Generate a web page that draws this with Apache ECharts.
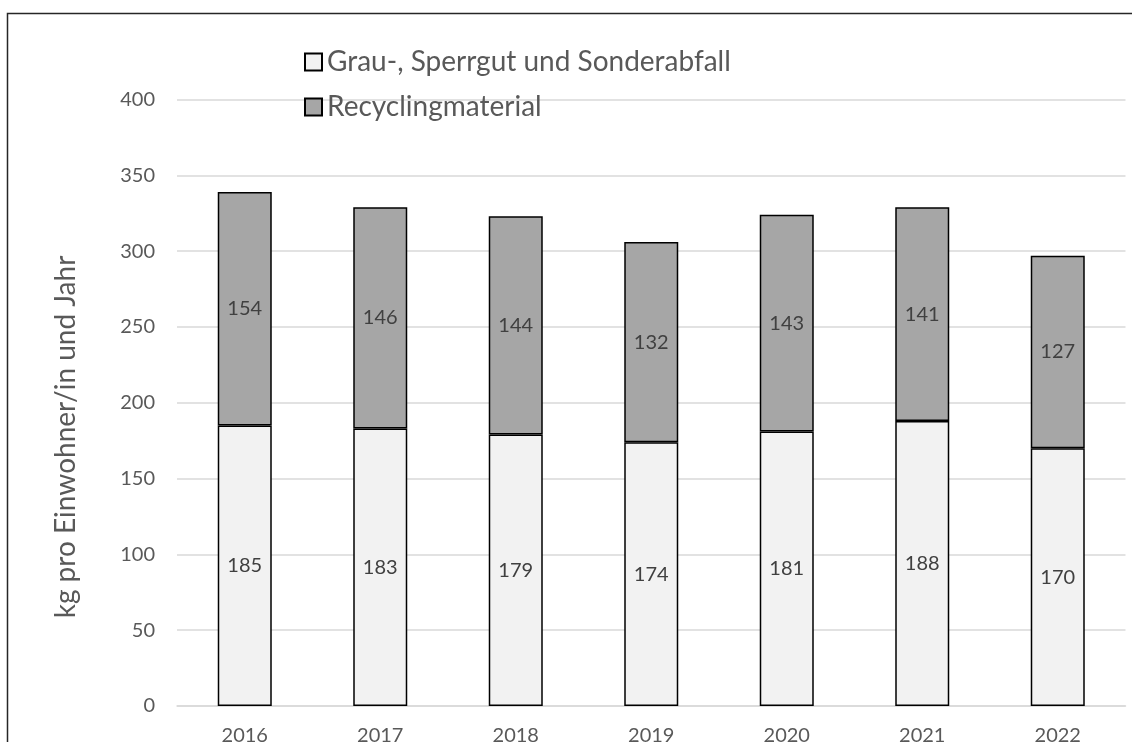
<!DOCTYPE html>
<html>
<head>
<meta charset="utf-8">
<script src="https://cdn.jsdelivr.net/npm/echarts@6/dist/echarts.min.js"></script>
<style>
  html, body { margin: 0; padding: 0; background: #fff; }
  #chart { width: 1132px; height: 742px; }
</style>
</head>
<body>
<div id="chart"></div>
<script>
// Abfallmengen pro Einwohner/in und Jahr (kg)
const years = ['2016', '2017', '2018', '2019', '2020', '2021', '2022'];
const restabfall = [185, 183, 179, 174, 181, 188, 170];
const recycling = [154, 146, 144, 132, 143, 141, 127];
const seriesNames = ['Grau-, Sperrgut und Sonderabfall', 'Recyclingmaterial'];
const axisTitle = 'kg pro Einwohner/in und Jahr';

const FONT = 'Lato';
const chart = echarts.init(document.getElementById('chart'), null, { renderer: 'canvas' });

const labelStyle = {
  show: true,
  position: 'inside',
  color: '#404040',
  fontFamily: FONT,
  fontSize: 20
};

chart.setOption({
  animation: false,
  backgroundColor: '#ffffff',
  grid: { left: 177, right: 6.5, top: 99.5, bottom: 36, containLabel: false, outerBoundsMode: 'none' },
  legend: {
    orient: 'vertical',
    left: 304,
    top: 48,
    padding: 0,
    itemWidth: 17,
    itemHeight: 17,
    itemGap: 17,
    icon: 'rect',
    textStyle: { color: '#595959', fontFamily: FONT, fontSize: 28 },
    data: seriesNames
  },
  xAxis: {
    type: 'category',
    data: years,
    axisLine: { show: true, lineStyle: { color: '#d9d9d9', width: 1.5 } },
    axisTick: { show: false },
    axisLabel: { color: '#595959', fontFamily: FONT, fontSize: 20, margin: 20 }
  },
  yAxis: {
    type: 'value',
    min: 0,
    max: 400,
    interval: 50,
    axisLine: { show: false },
    axisTick: { show: false },
    splitLine: { lineStyle: { color: '#d9d9d9', width: 1.5 } },
    axisLabel: { color: '#595959', fontFamily: FONT, fontSize: 20, margin: 22 }
  },
  series: [
    {
      name: seriesNames[0],
      type: 'bar',
      stack: 'total',
      barWidth: 54,
      data: restabfall,
      itemStyle: { color: '#f2f2f2', borderColor: '#000000', borderWidth: 1.5 },
      label: labelStyle
    },
    {
      name: seriesNames[1],
      type: 'bar',
      stack: 'total',
      barWidth: 54,
      data: recycling,
      itemStyle: { color: '#a6a6a6', borderColor: '#000000', borderWidth: 1.5 },
      label: labelStyle
    }
  ],
  graphic: [
    {
      type: 'text',
      x: 66,
      y: 437,
      rotation: Math.PI / 2,
      style: {
        text: axisTitle,
        fill: '#595959',
        font: '28px ' + FONT,
        align: 'center',
        verticalAlign: 'middle'
      }
    },
    {
      // Rahmen des Diagrammbereichs
      type: 'polyline',
      shape: { points: [[7.5, 760], [7.5, 13.5], [1150, 13.5]] },
      style: { stroke: '#262626', lineWidth: 1.5, fill: null }
    }
  ]
});
</script>
</body>
</html>
